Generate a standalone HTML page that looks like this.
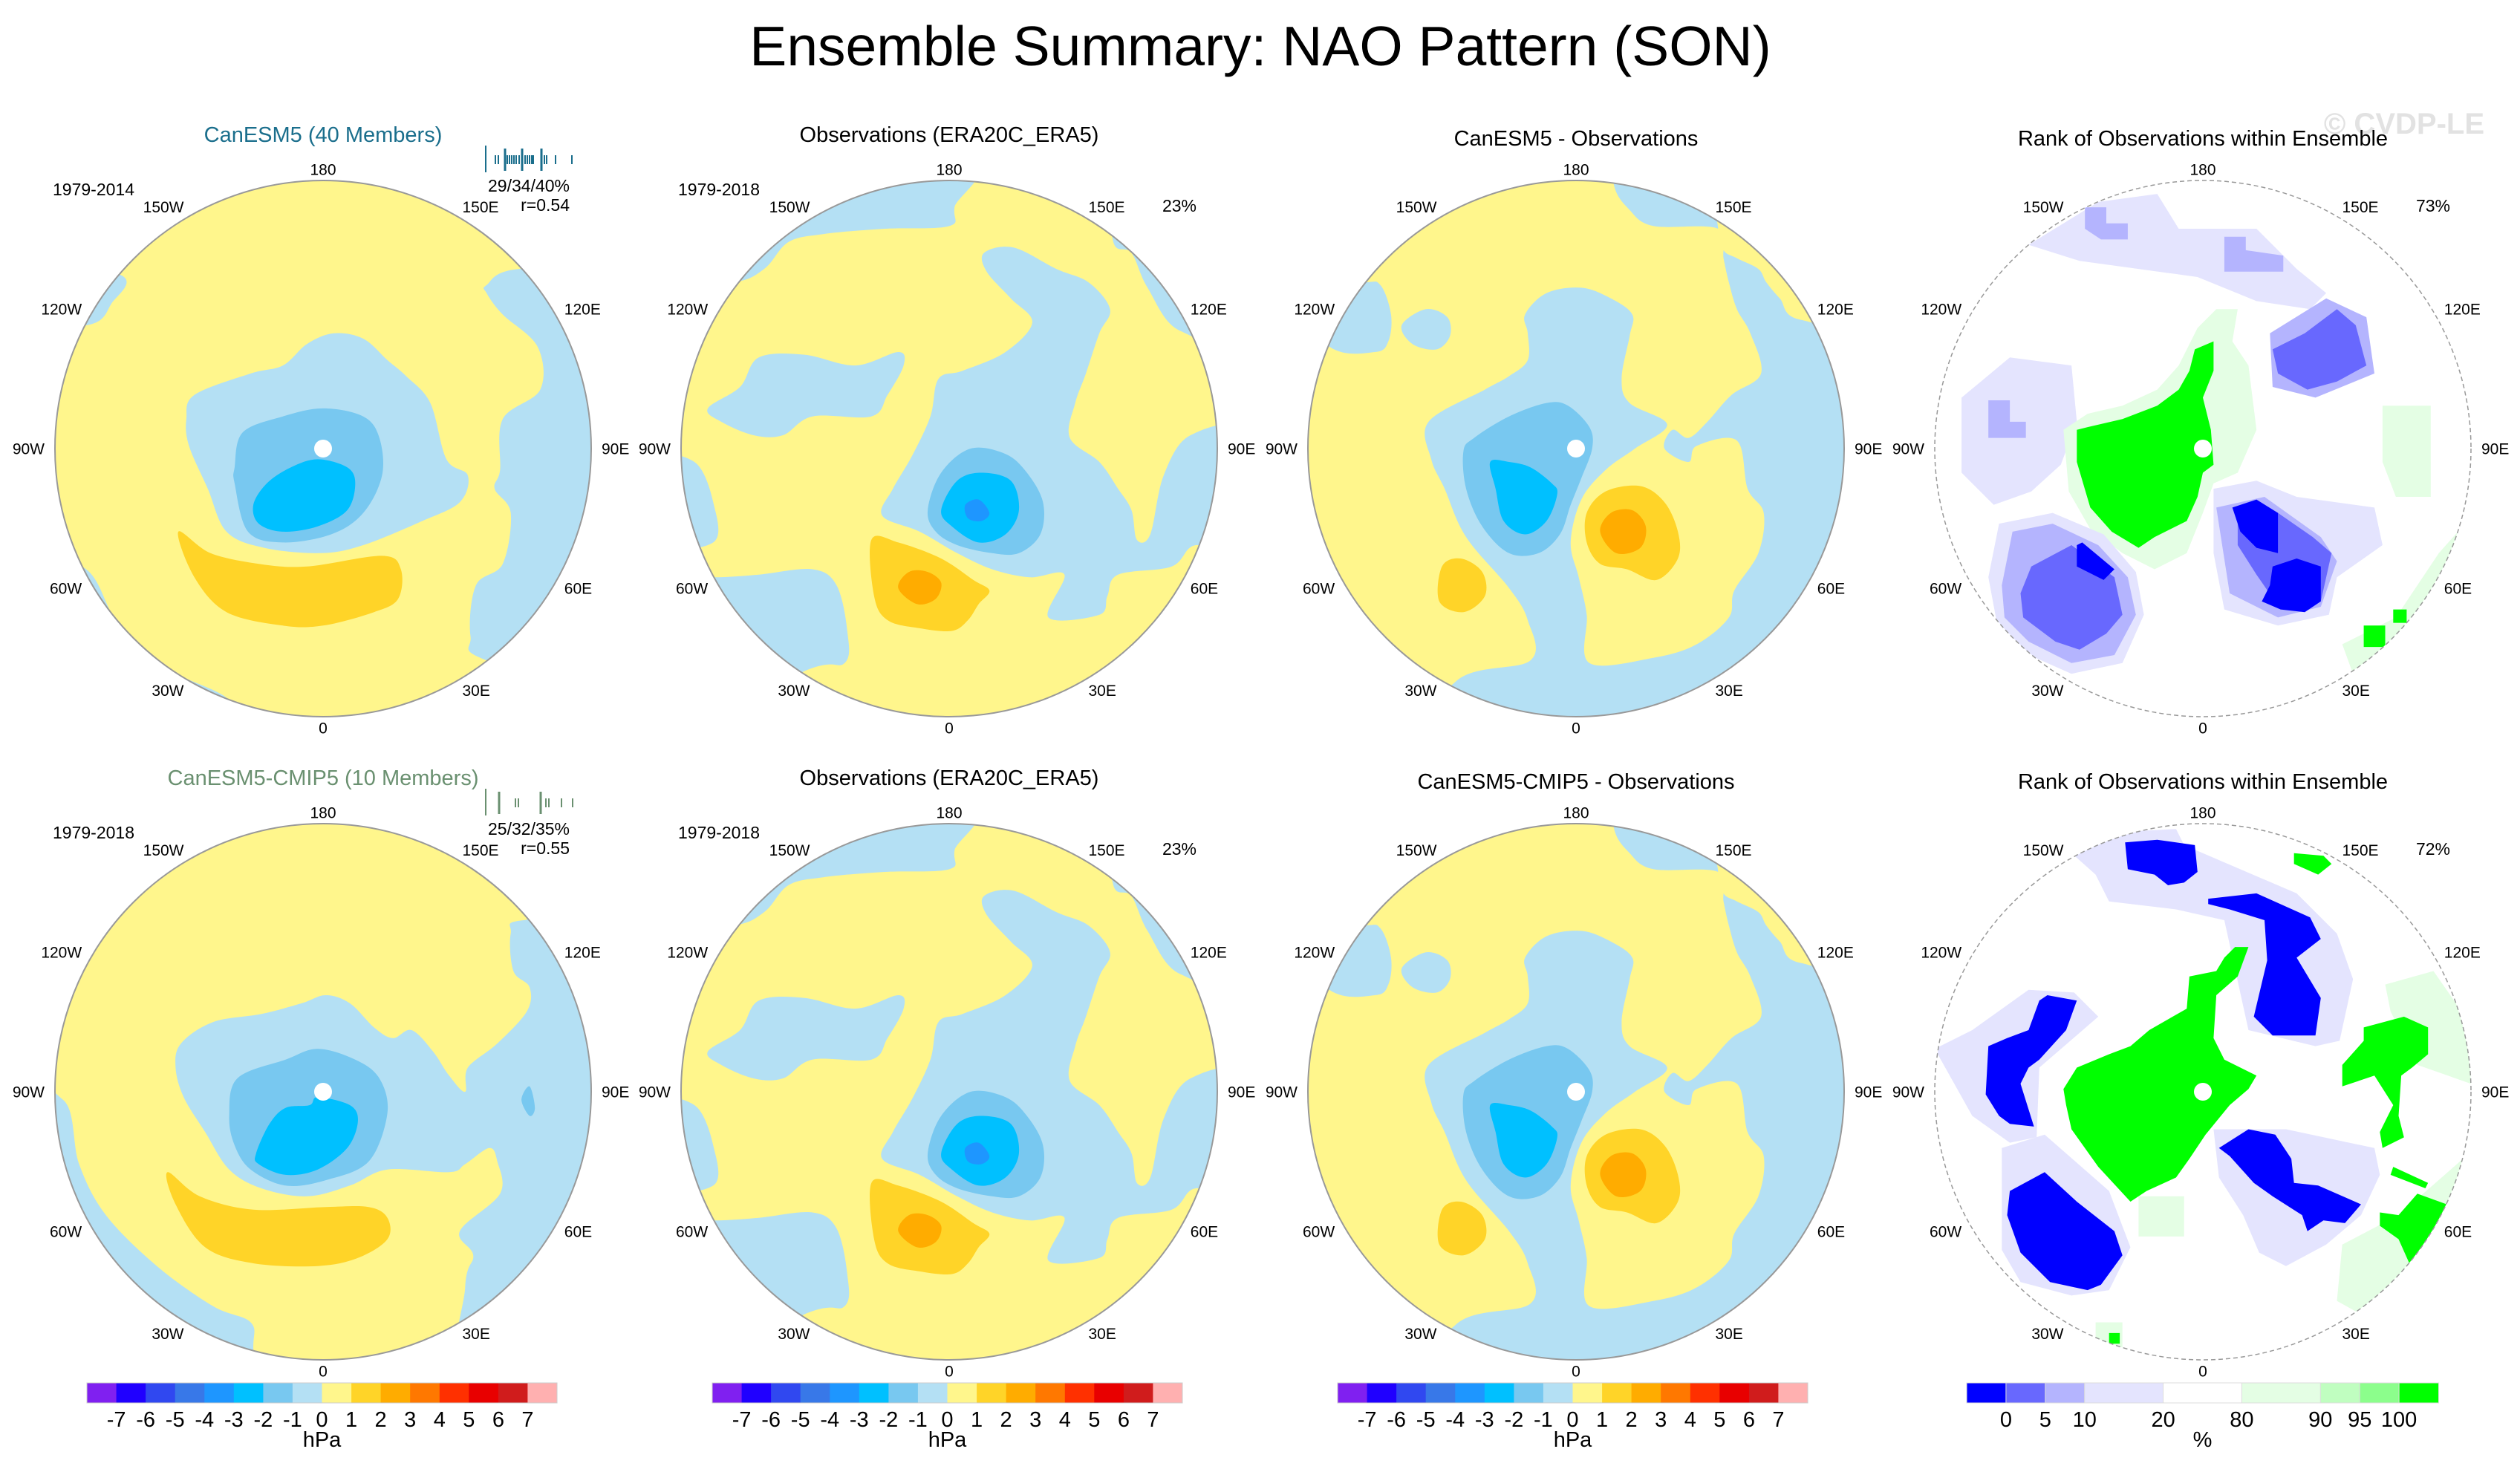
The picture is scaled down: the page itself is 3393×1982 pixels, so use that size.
<!DOCTYPE html>
<html><head><meta charset="utf-8"><title>Ensemble Summary: NAO Pattern (SON)</title>
<style>html,body{margin:0;padding:0;background:#fff}svg{display:block}text{font-family:"Liberation Sans",Arial,sans-serif}</style>
</head><body>
<svg id="fig" xmlns="http://www.w3.org/2000/svg" width="3393" height="1982" viewBox="0 0 3393 1982">
<rect x="0" y="0" width="3393" height="1982" fill="#fff"/>
<text x="1697" y="88" font-size="75" text-anchor="middle" fill="#000">Ensemble Summary: NAO Pattern (SON)</text>
<text x="3345" y="180" font-size="40" font-weight="bold" text-anchor="end" fill="#e2e2e2">© CVDP-LE</text>
</svg>
<script>
// ---- colour scales ----
const hpaColors = ["#8020f0","#2000ff","#3048f0","#3878e8","#1e96ff","#00c0ff","#78c8f0","#b4e0f4","#fff68c","#ffd428","#ffac00","#ff7800","#ff3000","#e80000","#d01c1c","#ffb0b0"];
const hpaLabels = ["-7","-6","-5","-4","-3","-2","-1","0","1","2","3","4","5","6","7"];
const rankColors = ["#0000ff","#6868fe","#b4b4fe","#e4e4fe","#ffffff","#e4fee4","#c0fec0","#8cfe8c","#00ff00"];
const rankUnits = [1,1,1,2,2,2,1,1,1];
const rankLabels = ["0","5","10","20","80","90","95","100"];
const LB="#b4e0f4", MB="#78c8f0", CY="#00c0ff", DB="#1e96ff", YE="#fff68c", GO="#ffd428", OR="#ffac00";
const R1="#0000ff", R2="#6868fe", R3="#b4b4fe", R4="#e4e4fe", G1="#00ff00", G2="#8cfe8c", G3="#c0fec0", G4="#e4fee4";

// ---- map region outlines (units: circle radius = 100) ----
const p1tEast=[[73,-67],[61,-61],[61,-58],[67,-50],[80,-38],[81,-22],[67,-11],[66,8],[64,15],[70,24],[67,43],[57,51],[55,70],[61,79],[120,95],[120,-67]];
const p1tUL=[[-76,-65],[-79,-54],[-88,-46],[-120,-46],[-120,-70]];
const p1tSliver=[[-90,44],[-76,66],[-56,83],[-33,96],[-33,120],[-120,120],[-120,44]];
const p1tLight=[[-51,-11],[-48,-20],[-27,-28],[-15,-31],[-6,-39],[4,-43],[15,-41],[24,-33],[31,-27],[40,-17],[46,4],[54,10],[51,20],[37,27],[15,36],[-1,39],[-22,37],[-36,31],[-43,15],[-50,-1]];
const p1tMed=[[-33,7],[-30,-6],[-15,-12],[0,-15],[15,-12],[21,-4],[22,10],[15,24],[3,32],[-15,35],[-28,31],[-33,13]];
const p1tCyan=[[-26,21],[-21,13],[-12,7],[-2,4],[9,7],[12,13],[9,23],[-2,29],[-15,31],[-24,28]];
const p1tGold=[[-54,31],[-42,39],[-24,43],[-6,44],[22,40],[29,45],[28,56],[19,61],[0,66],[-15,66],[-36,61],[-48,48]];

const p1bLight=[[-55,-9],[-53,-18],[-41,-26],[-23,-29],[-8,-33],[1,-36],[10,-33],[19,-24],[26,-20],[33,-23],[41,-15],[47,-6],[53,0],[54,-9],[65,-18],[76,-30],[77,-39],[71,-45],[70,-59],[75,-64],[120,-64],[120,120],[53,120],[53,73],[56,61],[51,52],[66,38],[65,26],[62,21],[53,27],[47,30],[24,29],[10,35],[-6,39],[-23,36],[-35,29],[-44,15],[-52,2]];
const p1bMed=[[-35,9],[-32,-5],[-14,-12],[-2,-16],[12,-12],[21,-5],[24,8],[17,26],[1,33],[-14,35],[-27,29],[-33,20]];
const p1bCyan=[[-25,23],[-20,12],[-14,6],[-5,5],[-2,2],[10,5],[13,11],[9,21],[-2,29],[-14,31],[-24,27]];
const p1bGold=[[-58,30],[-46,39],[-26,44],[1,43],[17,43],[24,47],[24,55],[13,62],[-2,65],[-26,64],[-44,58],[-55,42]];
const p1bLeft=[[-97,3],[-91,27],[-81,46],[-62,65],[-41,80],[-27,86],[-26,96],[-26,120],[-120,120],[-120,3]];
const p1bSpot=[[74,3],[77,-2],[79,6],[77,9]];

const p2TopLeft=[[-81,-62],[-69,-67],[-60,-77],[-47,-80],[-24,-82],[0,-83],[2,-90],[4,-110],[-110,-110],[-110,-62]];
const p2LeftBlob=[[-90,-15],[-78,-23],[-71,-34],[-54,-35],[-35,-31],[-19,-36],[-17,-31],[-23,-20],[-29,-12],[-51,-12],[-62,-5],[-73,-5],[-85,-10]];
const p2Main=[[-25,25],[-21,15],[-14,3],[-7,-12],[-4,-26],[5,-29],[21,-36],[31,-47],[23,-56],[14,-66],[13,-73],[24,-75],[40,-67],[52,-62],[60,-52],[56,-43],[51,-28],[47,-17],[45,-4],[56,5],[63,15],[68,23],[70,34],[75,32],[80,10],[90,-5],[110,-5],[110,40],[92,36],[83,44],[63,47],[59,55],[56,62],[37,63],[43,47],[30,48],[16,45],[3,39],[-11,31]];
const p2TopRight=[[61,-78],[68,-73],[74,-60],[86,-44],[110,-44],[110,-110],[61,-110]];
const p2LowLeft=[[-87,48],[-71,47],[-51,45],[-42,51],[-38,68],[-39,80],[-54,83],[-110,110],[-110,48]];
const p2LeftEdge=[[-95,5],[-88,20],[-88,35],[-110,35],[-110,5]];
const p2Med=[[-8,23],[-3,9],[8,0],[21,2],[29,9],[35,20],[34,32],[26,39],[16,39],[3,36],[-5,31]];
const p2Cyan=[[-3,23],[3,12],[12,9],[23,12],[26,23],[21,32],[11,35],[1,29]];
const p2Blue=[[6,21],[11,19],[15,24],[12,27],[7,26]];
const p2Gold=[[-29,34],[-19,35],[-3,41],[9,49],[15,53],[11,58],[7,64],[1,68],[-11,67],[-23,64],[-28,55]];
const p2Orange=[[-19,52],[-15,46],[-8,46],[-3,50],[-5,56],[-12,58]];

const p3Blue=[[14,-99],[20,-89],[29,-83],[53,-82],[55,-71],[57,-62],[60,-52],[65,-43],[69,-28],[58,-20],[49,-10],[42,-4],[36,-7],[33,0],[42,5],[45,-1],[60,-3],[64,15],[70,24],[68,39],[59,53],[57,63],[45,73],[29,78],[5,80],[4,62],[1,48],[-2,35],[2,19],[11,8],[22,0],[34,-9],[20,-17],[17,-26],[20,-42],[21,-50],[13,-56],[2,-60],[-11,-58],[-19,-50],[-18,-43],[-18,-33],[-25,-27],[-34,-22],[-55,-10],[-54,4],[-49,15],[-41,33],[-25,52],[-18,64],[-17,79],[-45,87],[-60,120],[120,120],[120,-120],[14,-120]];
const p3Strip=[[53,-82],[55,-74],[60,-71],[68,-67],[71,-62],[76,-56],[84,-48],[120,-48],[120,-120],[53,-120]];
const p3EdgeBlob=[[-80,-62],[-73,-61],[-69,-50],[-70,-40],[-75,-36],[-92,-38],[-110,-60]];
const p3SmallBlob=[[-56,-52],[-48,-49],[-47,-42],[-52,-37],[-61,-39],[-65,-46]];
const p3Med=[[-42,1],[-38,-4],[-25,-12],[-11,-17],[-3,-16],[5,-8],[6,0],[2,11],[-2,21],[-6,32],[-14,39],[-25,39],[-35,29],[-41,15]];
const p3Cyan=[[-32,5],[-25,5],[-17,7],[-9,13],[-7,17],[-11,27],[-19,32],[-27,27],[-30,15]];
const p3GoldR=[[4,24],[11,16],[24,14],[33,20],[38,31],[38,41],[30,49],[19,45],[9,43],[4,35]];
const p3OrangeR=[[9,31],[13,24],[21,23],[26,29],[24,37],[15,39]];
const p3GoldL=[[-50,44],[-43,41],[-35,46],[-34,55],[-42,61],[-51,57]];

const rtTopArc=[[-65,-76],[-39,-92],[-17,-95],[-9,-82],[20,-82],[35,-67],[46,-58],[40,-52],[20,-55],[-2,-64],[-24,-67],[-46,-70]];
const rtTopL1=[[-44,-90],[-36,-90],[-36,-84],[-28,-84],[-28,-78],[-38,-78],[-44,-82]];
const rtTopL2=[[8,-79],[16,-79],[16,-74],[30,-72],[30,-66],[8,-66]];
const rtLeft=[[-90,-19],[-72,-34],[-49,-31],[-47,-10],[-53,6],[-64,16],[-78,21],[-90,9]];
const rtLeftL=[[-80,-18],[-72,-18],[-72,-10],[-66,-10],[-66,-4],[-80,-4]];
const rtGreenHalo=[[-52,-7],[-43,-13],[-30,-16],[-17,-22],[-9,-31],[-2,-45],[5,-52],[13,-52],[11,-40],[17,-31],[20,-7],[13,9],[4,13],[0,24],[-6,39],[-18,45],[-30,39],[-42,30],[-50,16]];
const rtGreen=[[-47,-7],[-43,-8],[-30,-11],[-17,-16],[-9,-22],[-5,-29],[-3,-37],[4,-40],[4,-29],[0,-19],[3,-7],[4,6],[0,9],[-2,18],[-6,27],[-18,33],[-24,37],[-34,31],[-42,22],[-47,5]];
const rtLLHalo2=[[-80,48],[-76,28],[-56,24],[-37,32],[-25,46],[-22,62],[-30,80],[-49,84],[-67,76],[-77,64]];
const rtLLHalo=[[-75,51],[-71,31],[-56,28],[-39,36],[-28,48],[-25,62],[-33,77],[-49,80],[-65,72],[-74,63]];
const rtLLMid=[[-68,54],[-64,44],[-49,36],[-33,48],[-30,62],[-36,69],[-46,75],[-55,72],[-67,63]];
const rtLLDark=[[-47,36],[-45,35],[-33,45],[-37,49],[-47,44]];
const rtEu4=[[4,15],[20,12],[35,18],[64,22],[67,36],[50,48],[47,62],[28,66],[8,60],[4,39]];
const rtEu3=[[5,22],[23,18],[44,33],[50,42],[44,59],[28,63],[10,54]];
const rtEu2=[[13,24],[28,24],[41,33],[48,39],[44,57],[29,60],[20,47],[13,36]];
const rtEuD1=[[11,22],[20,19],[28,24],[28,39],[20,37],[14,31]];
const rtEuD2=[[26,44],[35,41],[44,44],[44,57],[38,61],[29,60],[22,57],[25,51]];
const rtUR3=[[25,-43],[46,-56],[61,-49],[64,-28],[42,-19],[26,-23]];
const rtUR2=[[26,-37],[38,-43],[50,-52],[57,-46],[61,-31],[50,-25],[39,-22],[28,-28]];
const rtRightG4=[[67,-16],[85,-16],[85,18],[72,18],[67,5]];
const rtBRG4=[[52,73],[72,63],[88,39],[96,30],[110,60],[60,95]];
const rtBRG1=[[60,66],[68,66],[68,74],[60,74]];
const rtBRG2=[[71,60],[76,60],[76,65],[71,65]];

const rbTopArc=[[-49,-89],[-29,-97],[-10,-98],[-7,-92],[35,-74],[50,-59],[56,-42],[51,-19],[42,-17],[17,-23],[8,-64],[-10,-68],[-35,-71],[-40,-81]];
const rbLeft4=[[-100,-16],[-86,-23],[-65,-38],[-48,-37],[-39,-28],[-61,-9],[-62,17],[-72,19],[-86,9]];
const rbLL4=[[-75,21],[-59,16],[-35,37],[-27,58],[-35,74],[-49,76],[-68,71],[-75,59]];
const rbEu4=[[4,14],[31,14],[64,21],[66,31],[59,46],[46,57],[31,65],[21,60],[15,46],[6,32]];
const rbRightG4=[[68,-40],[86,-45],[100,-25],[100,-3],[80,-10],[70,-30]];
const rbBRG4=[[52,57],[73,46],[97,25],[110,40],[66,87],[50,78]];
const rbEuG4=[[-24,39],[-7,39],[-7,54],[-24,54]];
const rbBotG4=[[-40,86],[-30,86],[-30,98],[-40,98]];
const rbGreen=[[-52,-1],[-47,-9],[-35,-14],[-27,-17],[-20,-23],[-13,-27],[-6,-31],[-5,-43],[5,-45],[8,-50],[12,-54],[17,-54],[13,-43],[5,-36],[4,-20],[8,-12],[20,-6],[17,-1],[10,5],[1,16],[-5,25],[-10,32],[-21,37],[-27,41],[-39,28],[-49,14],[-51,5]];
const rbBlueL=[[-80,-17],[-73,-20],[-65,-23],[-61,-34],[-58,-36],[-47,-34],[-51,-23],[-61,-12],[-65,-9],[-68,-3],[-63,13],[-72,12],[-76,9],[-81,1]];
const rbBlueLL=[[-72,37],[-59,30],[-47,41],[-33,52],[-30,61],[-38,72],[-43,74],[-57,71],[-68,60],[-73,46]];
const rbBlueT=[[-29,-93],[-17,-94],[-3,-92],[-2,-82],[-7,-78],[-13,-77],[-18,-81],[-28,-83]];
const rbBlueR=[[2,-72],[20,-74],[40,-65],[44,-57],[35,-50],[44,-35],[42,-21],[26,-21],[19,-28],[24,-49],[23,-64],[10,-68],[2,-70]];
const rbBlueEu=[[6,21],[17,14],[27,16],[33,25],[34,34],[43,35],[59,42],[53,49],[45,48],[39,52],[37,46],[26,39],[19,34],[10,24]];
const rbGreenR=[[60,-24],[75,-28],[84,-24],[84,-14],[78,-9],[74,-6],[73,9],[75,17],[67,21],[66,15],[71,5],[64,-6],[52,-2],[52,-10],[60,-19]];
const rbGreenLR=[[66,45],[73,46],[80,38],[91,42],[84,56],[77,64],[73,55],[66,50]];
const rbGreenLR2=[[71,28],[84,34],[83,36],[70,31]];
const rbGreenTR=[[34,-89],[45,-88],[48,-85],[43,-81],[34,-85]];
const rbGreenBot=[[-35,90],[-31,90],[-31,94],[-35,94]];

// ---- ensemble member strips (x positions of member ticks) ----
const stripTop=[667,671,680,683,686,689,692,695,699,703,707,710,713,716,718,729,733,736,748,770];
const stripTopTall=[680,703,729];
const stripBot=[672,694,698,728,735,739,756,771];
const stripBotTall=[672,728];

const NS="http://www.w3.org/2000/svg";
const svg=document.getElementById('fig');
function el(tag,attrs,parent){const e=document.createElementNS(NS,tag);for(const k in attrs)e.setAttribute(k,attrs[k]);(parent||svg).appendChild(e);return e;}
function smoothPath(pts,cx,cy,r){
  const P=pts.map(p=>[cx+p[0]*r/100,cy+p[1]*r/100]);const n=P.length;let d="M"+P[0][0].toFixed(1)+","+P[0][1].toFixed(1);
  for(let i=0;i<n;i++){const p0=P[(i-1+n)%n],p1=P[i],p2=P[(i+1)%n],p3=P[(i+2)%n];
    const c1=[p1[0]+(p2[0]-p0[0])/6,p1[1]+(p2[1]-p0[1])/6],c2=[p2[0]-(p3[0]-p1[0])/6,p2[1]-(p3[1]-p1[1])/6];
    d+=" C"+c1[0].toFixed(1)+","+c1[1].toFixed(1)+" "+c2[0].toFixed(1)+","+c2[1].toFixed(1)+" "+p2[0].toFixed(1)+","+p2[1].toFixed(1);}
  return d+"Z";}
function polyPath(pts,cx,cy,r){return "M"+pts.map(p=>(cx+p[0]*r/100).toFixed(1)+","+(cy+p[1]*r/100).toFixed(1)).join(" L")+"Z";}

const cols=[435,1278,2122,2966], rows=[604,1470], RAD=361;
const lons=[[0,"0"],[30,"30E"],[60,"60E"],[90,"90E"],[120,"120E"],[150,"150E"],[180,"180"],[-150,"150W"],[-120,"120W"],[-90,"90W"],[-60,"60W"],[-30,"30W"]];
let clipId=0;
function panel(name,cx,cy,bg,layers,smooth,rank,noDot){
  const g=el('g',{},svg);
  
  
  const cid='clip'+(clipId++);
  const cp=el('clipPath',{id:cid},g);el('circle',{cx:cx,cy:cy,r:RAD},cp);
  const mg=el('g',{'clip-path':'url(#'+cid+')'},g);
  const bgc=el('circle',{cx:cx,cy:cy,r:RAD,fill:bg},mg);
  
  
  layers.forEach(L=>{const p=el('path',{d:(smooth?smoothPath:polyPath)(L[1],cx,cy,RAD),fill:L[0]},mg);
    
    });
  if(!noDot){
    const dot=el('circle',{cx:cx,cy:cy,r:12,fill:'#fff'},mg);
    
    
  }
  const rim=el('circle',{cx:cx,cy:cy,r:RAD,fill:'none',stroke:'#999','stroke-width':rank?1.5:2,'stroke-dasharray':rank?'6 4':'none'},g);
  
  
  lons.forEach(l=>{const a=l[0]*Math.PI/180,s=Math.sin(a),c=Math.cos(a);
    const x=cx+s*(RAD+14),y=cy+c*(RAD+15)+0.36*21;
    const t=el('text',{x:x.toFixed(1),y:y.toFixed(1),'font-size':21,'text-anchor':s>0.1?'start':(s<-0.1?'end':'middle'),fill:'#000'},g);
    t.textContent=l[1];
    
    });
  return g;}
function txt(name,x,y,s,fs,anchor,fill){const t=el('text',{x:x,y:y,'font-size':fs,'text-anchor':anchor||'middle',fill:fill||'#000'});t.textContent=s;
  
  return t;}

const obsLayers=[[LB,p2TopLeft],[LB,p2LeftBlob],[LB,p2Main],[LB,p2TopRight],[LB,p2LowLeft],[LB,p2LeftEdge],[MB,p2Med],[CY,p2Cyan],[DB,p2Blue],[GO,p2Gold],[OR,p2Orange]];
const diffLayers=[[LB,p3Blue],[YE,p3Strip],[LB,p3EdgeBlob],[LB,p3SmallBlob],[MB,p3Med],[CY,p3Cyan],[GO,p3GoldR],[OR,p3OrangeR],[GO,p3GoldL]];
panel('map-canesm5',cols[0],rows[0],YE,[[LB,p1tEast,'negative-region'],[LB,p1tUL,'negative-region'],[LB,p1tSliver,'negative-region'],[LB,p1tLight,'negative-region'],[MB,p1tMed,'negative-region'],[CY,p1tCyan,'negative-core'],[GO,p1tGold,'positive-region']],true);
panel('map-observations-top',cols[1],rows[0],YE,obsLayers,true,false,true);
panel('map-canesm5-minus-obs',cols[2],rows[0],YE,diffLayers,true);
panel('map-rank-top',cols[3],rows[0],'#fff',[[R4,rtTopArc],[R3,rtTopL1],[R3,rtTopL2],[R4,rtLeft],[R3,rtLeftL],[G4,rtGreenHalo],[G1,rtGreen],[R4,rtLLHalo2],[R3,rtLLHalo],[R2,rtLLMid],[R1,rtLLDark],[R4,rtEu4],[R3,rtEu3],[R2,rtEu2],[R1,rtEuD1],[R1,rtEuD2],[R3,rtUR3],[R2,rtUR2],[G4,rtRightG4],[G4,rtBRG4],[G1,rtBRG1],[G1,rtBRG2]],false,true);
panel('map-canesm5-cmip5',cols[0],rows[1],YE,[[LB,p1bLight],[LB,p1bLeft],[MB,p1bMed],[CY,p1bCyan],[GO,p1bGold],[MB,p1bSpot]],true);
panel('map-observations-bottom',cols[1],rows[1],YE,obsLayers,true,false,true);
panel('map-cmip5-minus-obs',cols[2],rows[1],YE,diffLayers,true);
panel('map-rank-bottom',cols[3],rows[1],'#fff',[[R4,rbTopArc],[R4,rbLeft4],[R4,rbLL4],[R4,rbEu4],[G4,rbRightG4],[G4,rbBRG4],[G4,rbEuG4],[G4,rbBotG4],[G1,rbGreen],[R1,rbBlueL],[R1,rbBlueLL],[R1,rbBlueT],[R1,rbBlueR],[R1,rbBlueEu],[G1,rbGreenR],[G1,rbGreenLR],[G1,rbGreenLR2],[G1,rbGreenTR],[G1,rbGreenBot]],false,true);

// titles & annotations
const dy=866;
txt('panel-title-canesm5',435,191,'CanESM5 (40 Members)',29,'middle','#1a6e8c');
txt('panel-title-obs',1278,191,'Observations (ERA20C_ERA5)',29);
txt('panel-title-diff',2122,196,'CanESM5 - Observations',29);
txt('panel-title-rank',2966,196,'Rank of Observations within Ensemble',29);
txt('panel-title-cmip5',435,191+dy,'CanESM5-CMIP5 (10 Members)',29,'middle','#6a9070');
txt('panel-title-obs-2',1278,191+dy,'Observations (ERA20C_ERA5)',29);
txt('panel-title-diff-2',2122,196+dy,'CanESM5-CMIP5 - Observations',29);
txt('panel-title-rank-2',2966,196+dy,'Rank of Observations within Ensemble',29);
txt('period-label',126,263,'1979-2014',23);
txt('period-label',968,263,'1979-2018',23);
txt('period-label',126,263+dy,'1979-2018',23);
txt('period-label',968,263+dy,'1979-2018',23);
txt('stats-label',767,258,'29/34/40%',23,'end');
txt('correlation-label',767,284,'r=0.54',23,'end');
txt('stats-label',767,258+dy,'25/32/35%',23,'end');
txt('correlation-label',767,284+dy,'r=0.55',23,'end');
txt('pattern-percent',1588,285,'23%',23);
txt('pattern-percent',1588,285+dy,'23%',23);
txt('rank-percent',3276,285,'73%',23);
txt('rank-percent',3276,285+dy,'72%',23);

// member strips
function strip(xs,tall,y0,color){
  const ax=el('line',{x1:654,x2:654,y1:y0-4,y2:y0+32,stroke:color,'stroke-width':2});
  
  
  xs.forEach(x=>{const l=el('line',{x1:x,x2:x,y1:y0+9,y2:y0+21,stroke:color,'stroke-width':2});
    
    });
  tall.forEach(x=>{const l=el('line',{x1:x,x2:x,y1:y0,y2:y0+30,stroke:color,'stroke-width':3});
    
    });}
strip(stripTop,stripTopTall,200,'#1a6e8c');
strip(stripBot,stripBotTall,1066,'#6a9070');

// colour bars
const cbY=1862,cbH=27;
function hpaBar(x0,x1){
  const w=(x1-x0)/hpaColors.length;
  hpaColors.forEach((c,i)=>{const r=el('rect',{x:(x0+i*w).toFixed(1),y:cbY,width:(w+0.5).toFixed(1),height:cbH,fill:c});
    
    });
  const o=el('rect',{x:x0,y:cbY,width:x1-x0,height:cbH,fill:'none',stroke:'#ccc','stroke-width':1});
  
  
  hpaLabels.forEach((s,i)=>txt('colorbar-tick-label',(x0+(i+1)*w).toFixed(1),1921,s,29));
  txt('colorbar-unit',((x0+x1)/2).toFixed(1),1948,'hPa',29);}
hpaBar(117,750);hpaBar(959,1592);hpaBar(1801,2434);
(function(){const x0=2648,x1=3283,tot=rankUnits.reduce((a,b)=>a+b,0),u=(x1-x0)/tot;let x=x0;const bounds=[];
  rankColors.forEach((c,i)=>{const r=el('rect',{x:x.toFixed(1),y:cbY,width:(rankUnits[i]*u+0.5).toFixed(1),height:cbH,fill:c,stroke:'#ddd','stroke-width':1});
    
    
    x+=rankUnits[i]*u;bounds.push(x);});
  rankLabels.forEach((s,i)=>txt('rank-colorbar-tick-label',bounds[i].toFixed(1),1921,s,29));
  txt('rank-colorbar-unit',((x0+x1)/2).toFixed(1),1948,'%',29);})();
</script>
</body></html>
